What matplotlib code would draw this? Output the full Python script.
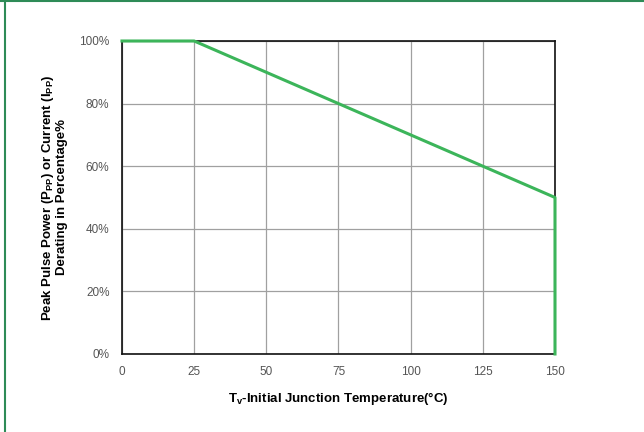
import matplotlib
matplotlib.use('Agg')
import matplotlib.pyplot as plt
from matplotlib.lines import Line2D

plt.rcParams['font.family'] = ['Liberation Sans', 'DejaVu Sans']
plt.rcParams['mathtext.fontset'] = 'custom'
plt.rcParams['mathtext.rm'] = 'Liberation Sans:bold'
plt.rcParams['mathtext.it'] = 'Liberation Sans:bold'
plt.rcParams['mathtext.bf'] = 'Liberation Sans:bold'

# derating curve
temp = [0, 25, 150, 150]
derating = [100, 100, 50, 0]
x_ticks = [0, 25, 50, 75, 100, 125, 150]
y_ticks = [0, 20, 40, 60, 80, 100]

fig = plt.figure(figsize=(6.44, 4.32), dpi=100)
ax = fig.add_axes([0.1894, 0.1806, 0.6724, 0.7245])

ax.plot(temp, derating, color='#3cb55a', linewidth=2.2, clip_on=False, zorder=5)

ax.set_xlim(0, 150)
ax.set_ylim(0, 100)
ax.set_xticks(x_ticks)
ax.set_yticks(y_ticks)
ax.set_yticklabels([str(v) + '%' for v in y_ticks])
ax.tick_params(length=0, labelsize=8.5, labelcolor='#555555', pad=9)
ax.grid(True, color='#a0a0a0', linewidth=0.9)
for s in ax.spines.values():
    s.set_color('#111111')
    s.set_linewidth(1.2)

ax.set_xlabel(r'T$_{\mathregular{v}}$-Initial Junction Temperature(°C)',
              fontsize=9.5, fontweight='bold', labelpad=8)
ax.set_ylabel('Peak Pulse Power (P$_{\\mathregular{PP}}$) or Current (I$_{\\mathregular{PP}}$)\nDerating in Percentage%',
              fontsize=9.5, fontweight='bold', labelpad=8, linespacing=1.05)

# green frame around the figure (only top and left visible)
fig.add_artist(Line2D([0, 1], [0.998, 0.998], color='#2e8b57', linewidth=1.5, transform=fig.transFigure))
fig.add_artist(Line2D([0.008, 0.008], [0, 1], color='#2e8b57', linewidth=1.5, transform=fig.transFigure))

fig.savefig('out.png', dpi=100)
